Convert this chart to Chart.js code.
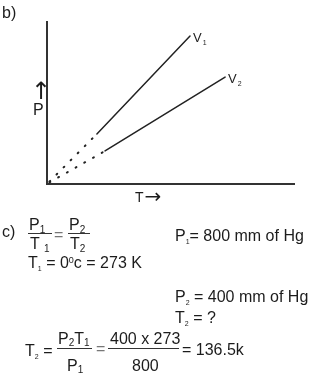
<!DOCTYPE html>
<html>
<head>
<meta charset="utf-8">
<script src="https://cdn.jsdelivr.net/npm/chart.js@4.4.0/dist/chart.umd.min.js"></script>
<style>
  html, body { margin: 0; padding: 0; background: #fff; }
  body { width: 325px; height: 380px; position: relative; overflow: hidden;
         font-family: "Liberation Sans", Arial, sans-serif; color: #1c1c1c; }
  #wrap { position: absolute; left: 0; top: 0; width: 325px; height: 205px; }
  .t { position: absolute; font-size: 16px; line-height: 16px; white-space: nowrap; }
  .sm { font-size: 14px; line-height: 14px; }
  .arr { font-family: "DejaVu Sans", sans-serif; }
  .lo { position: relative; top: 3px; font-size: 7px; }
  .lo2 { position: relative; top: 3px; font-size: 10px; }
  .lo3 { position: relative; top: 2px; font-size: 10px; }
  .hi { position: relative; top: -5px; font-size: 9px; }
  .bar { position: absolute; height: 1px; background: #333; }
  .g { color: #777; }
</style>
</head>
<body>
<div id="wrap"><canvas id="c"></canvas></div>

<div class="t" style="left:2px;top:5px">b)</div>
<div class="t arr" style="left:31px;top:79px;font-size:24px;line-height:24px">↑</div>
<div class="t" style="left:33px;top:102px">P</div>
<div class="t sm" style="left:135px;top:188px">T<span class="arr" style="font-size:20px;margin-left:1px;position:relative;top:1px">→</span></div>

<div class="t" style="left:2px;top:224px">c)</div>
<div class="t" style="left:29px;top:217px">P<span class="lo2">1</span></div>
<div class="bar" style="left:28px;top:233px;width:24px"></div>
<div class="t" style="left:30px;top:236px">T <span class="lo2">1</span></div>
<div class="t g" style="left:54px;top:227px">=</div>
<div class="t" style="left:69px;top:217px">P<span class="lo2">2</span></div>
<div class="bar" style="left:68px;top:233px;width:22px"></div>
<div class="t" style="left:70px;top:236px">T<span class="lo2">2</span></div>

<div class="t" style="left:175px;top:228px">P<span class="lo">1</span>= 800 mm of Hg</div>
<div class="t" style="left:28px;top:255px">T<span class="lo">1</span> = 0<span class="hi">0</span>c = 273 K</div>
<div class="t" style="left:175px;top:289px">P<span class="lo">2</span> = 400 mm of Hg</div>
<div class="t" style="left:175px;top:310px">T<span class="lo">2</span> = ?</div>

<div class="t" style="left:25px;top:343px">T<span class="lo">2</span> =</div>
<div class="t" style="left:58px;top:331px">P<span class="lo3">2</span>T<span class="lo3">1</span></div>
<div class="bar" style="left:57px;top:348px;width:35px"></div>
<div class="t" style="left:67px;top:358px">P<span class="lo3">1</span></div>
<div class="t g" style="left:96px;top:341px">=</div>
<div class="t" style="left:110px;top:331px">400 x 273</div>
<div class="bar" style="left:108px;top:348px;width:71px"></div>
<div class="t" style="left:132px;top:358px">800</div>
<div class="t" style="left:182px;top:342px">= 136.5k</div>

<script>
// isochore lines: first segment is the dotted extrapolation to the origin
const tV1 = [1, 20.2, 57.9];
const pV1 = [1.5, 30.9, 91.4];
const tV2 = [1, 23.5, 72.1];
const pV2 = [1, 20.4, 66.0];
const lineNames = ['V', 'V'];
const lineSubs = ['1', '2'];

const ink = '#222';
const toPts = (xs, ys) => xs.map((x, i) => ({ x, y: ys[i] }));

const lineSet = (xs, ys) => ({
  data: toPts(xs, ys), showLine: true, borderColor: ink, borderWidth: 1.5,
  pointRadius: 0, borderCapStyle: 'round',
  segment: { borderDash: c => c.p0DataIndex === 0 ? [1, 9] : undefined,
             borderWidth: c => c.p0DataIndex === 0 ? 2 : 1.5 }
});

// V1 / V2 tags next to the end of each line
const tagPlugin = {
  id: 'tags',
  afterDatasetsDraw(chart) {
    const { ctx, scales: { x, y } } = chart;
    ctx.save();
    ctx.fillStyle = ink;
    chart.data.datasets.forEach((ds, i) => {
      const p = ds.data[ds.data.length - 1];
      const px = x.getPixelForValue(p.x) + 3, py = y.getPixelForValue(p.y) + 6;
      ctx.font = '13px "Liberation Sans", Arial, sans-serif';
      ctx.textBaseline = 'alphabetic';
      ctx.fillText(lineNames[i], px, py);
      const w = ctx.measureText(lineNames[i]).width;
      ctx.font = '7px "Liberation Sans", Arial, sans-serif';
      ctx.fillText(lineSubs[i], px + w + 1, py + 3);
    });
    ctx.restore();
  }
};

const axis = {
  type: 'linear', min: 0, max: 100,
  ticks: { display: false },
  grid: { display: false, drawTicks: false },
  border: { display: true, color: '#333', width: 2 }
};

new Chart(document.getElementById('c'), {
  type: 'scatter',
  data: { datasets: [lineSet(tV1, pV1), lineSet(tV2, pV2)] },
  options: {
    responsive: true, maintainAspectRatio: false, animation: false,
    layout: { padding: { left: 47, top: 22, right: 31, bottom: 21 } },
    plugins: { legend: { display: false }, tooltip: { enabled: false } },
    scales: { x: axis, y: axis }
  },
  plugins: [tagPlugin]
});
</script>
</body>
</html>
